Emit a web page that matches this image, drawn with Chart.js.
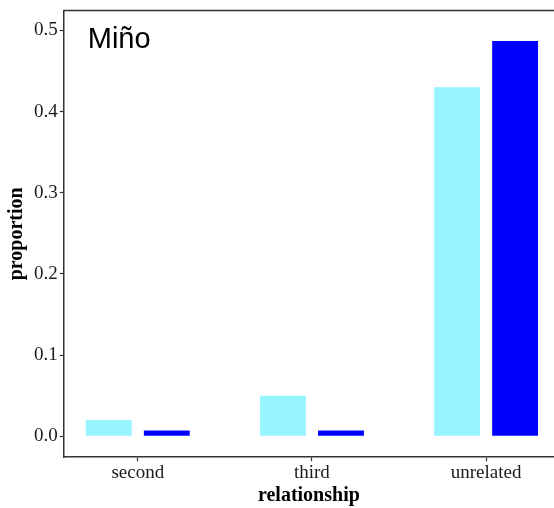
<!DOCTYPE html>
<html>
<head>
<meta charset="utf-8">
<script src="https://cdn.jsdelivr.net/npm/chart.js@4"></script>
<style>
  html, body { margin: 0; padding: 0; background: #fff; }
</style>
</head>
<body>
<canvas id="chart" width="554" height="508"></canvas>
<script>
const categories = ["second", "third", "unrelated"];
const cyanValues = [0.020, 0.050, 0.430];
const blueValues = [0.007, 0.007, 0.487];
const yTicks = [0.0, 0.1, 0.2, 0.3, 0.4, 0.5];
const panelTitle = "Miño";

const serif = "'Liberation Serif', 'DejaVu Serif', serif";

// linear x so the plot can start / end off-center like the original
const toPoints = vals => vals.map((v, i) => ({ x: i + 1, y: v }));

const frame = {
    id: "frame",
    afterDraw(chart) {
        const { ctx, chartArea } = chart;
        ctx.save();
        ctx.strokeStyle = "#333";
        ctx.lineWidth = 1.5;
        ctx.beginPath();
        ctx.moveTo(chartArea.left, chartArea.top);
        ctx.lineTo(chart.width, chartArea.top);
        ctx.stroke();
        ctx.fillStyle = "#000";
        ctx.font = "29px 'Liberation Sans', Arial, sans-serif";
        ctx.textBaseline = "middle";
        ctx.fillText(panelTitle, chartArea.left + 24, chartArea.top + 29);
        ctx.restore();
    }
};

const axisGrid = {
    display: true,
    drawOnChartArea: false,
    drawTicks: true,
    offset: false,
    tickLength: 4,
    tickWidth: 1.2,
    tickColor: "#333"
};

new Chart(document.getElementById("chart"), {
    type: "bar",
    data: {
        datasets: [
            {
                label: "a",
                data: toPoints(cyanValues),
                backgroundColor: "#98F5FF",
                barPercentage: 0.79,
                categoryPercentage: 0.667
            },
            {
                label: "b",
                data: toPoints(blueValues),
                backgroundColor: "#0000FF",
                barPercentage: 0.79,
                categoryPercentage: 0.667
            }
        ]
    },
    options: {
        responsive: false,
        animation: false,
        layout: { padding: { left: 5, top: 4, right: 0, bottom: 0 } },
        plugins: { legend: { display: false }, tooltip: { enabled: false } },
        scales: {
            x: {
                type: "linear",
                min: 0.575,
                max: 3.39,
                offset: false,
                afterBuildTicks: s => { s.ticks = categories.map((c, i) => ({ value: i + 1 })); },
                ticks: {
                    callback: v => categories[v - 1],
                    autoSkip: false,
                    maxRotation: 0,
                    color: "#1a1a1a",
                    font: { family: serif, size: 19 },
                    padding: 0
                },
                grid: axisGrid,
                border: { color: "#333", width: 1.5 },
                title: {
                    display: true,
                    text: "relationship",
                    color: "#000",
                    font: { family: serif, size: 20, weight: "bold" },
                    padding: { top: 0, bottom: 0 }
                }
            },
            y: {
                min: -0.0258,
                max: 0.5246,
                afterBuildTicks: s => { s.ticks = yTicks.map(v => ({ value: v })); },
                ticks: {
                    callback: v => v.toFixed(1),
                    autoSkip: false,
                    color: "#1a1a1a",
                    font: { family: serif, size: 19, lineHeight: 0.9 },
                    padding: 2
                },
                grid: axisGrid,
                border: { color: "#333", width: 1.5 },
                title: {
                    display: true,
                    text: "proportion",
                    color: "#000",
                    font: { family: serif, size: 20, weight: "bold" },
                    padding: { top: 0, bottom: 3 }
                }
            }
        }
    },
    plugins: [frame]
});
</script>
</body>
</html>
